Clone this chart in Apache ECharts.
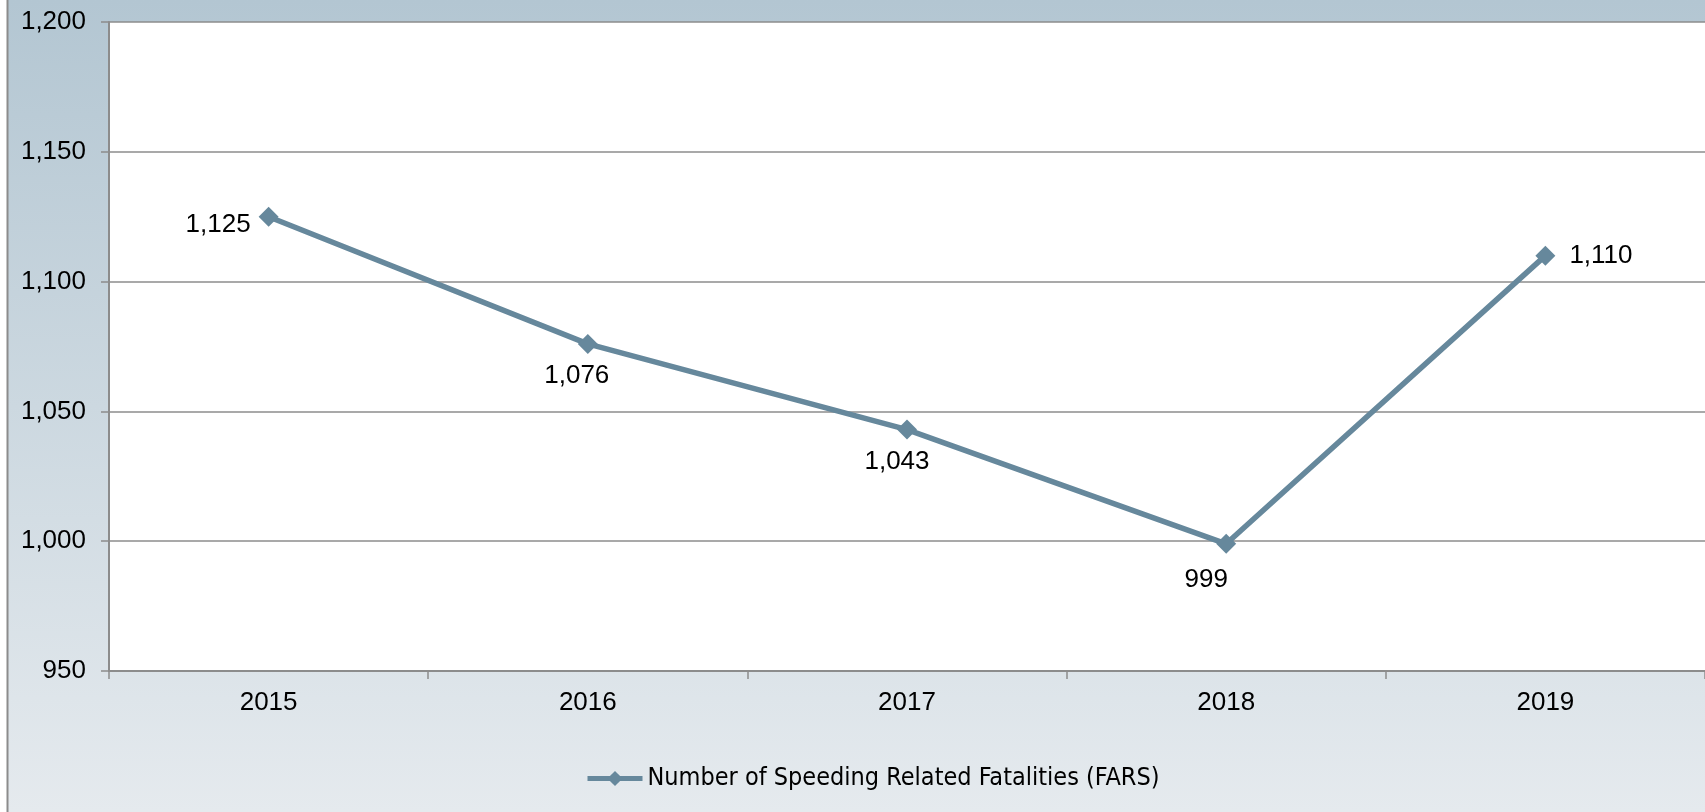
<!DOCTYPE html>
<html>
<head>
<meta charset="utf-8">
<script src="https://cdn.jsdelivr.net/npm/echarts@6/dist/echarts.min.js"></script>
<style>
  html, body { margin: 0; padding: 0; background: #fff; }
  #speedchart { width: 1705px; height: 812px; }
</style>
</head>
<body>
<div id="speedchart"></div>
<script>
  // values
  const years = ['2015', '2016', '2017', '2018', '2019']
  const fatalities = [1125, 1076, 1043, 999, 1110]
  const seriesName = 'Number of Speeding Related Fatalities (FARS)'
  const titleText = 'Trending Annual Speeding Related Fatalities (FARS)'
  const yMin = 950
  const yMax = 1200
  const yStep = 50

  // where each value label sits (Excel style)
  const labelPlace = [
    { position: 'left', distance: 8, offset: [0, 8] },
    { position: 'bottom', distance: 9, offset: [-11, 0] },
    { position: 'bottom', distance: 9, offset: [-10, 0] },
    { position: 'bottom', distance: 13, offset: [-20, 0] },
    { position: 'right', distance: 14, offset: [0, 0] },
  ]

  const fmt = v => Number(v).toLocaleString('en-US')
  const lineColor = '#66889c'
  const gridColor = '#8c8c8c'
  const font = "'Liberation Sans', Arial, sans-serif"

  const chart = echarts.init(document.getElementById('speedchart'))
  chart.setOption({
    backgroundColor: new echarts.graphic.LinearGradient(0, 0, 0, 1, [
      { offset: 0, color: '#b3c6d2' },
      { offset: 1, color: '#e5eaee' }
    ]),
    animation: false,
    graphic: [
      { type: 'rect', left: 0, top: 0, shape: { width: 7, height: 812 }, style: { fill: '#fff' } },
      { type: 'line', shape: { x1: 7.5, y1: 0, x2: 7.5, y2: 812 }, style: { stroke: gridColor, lineWidth: 2 } },
      // title is cut off by the top edge in the reference, only descenders show
      {
        type: 'text',
        x: 1366,
        y: -1,
        style: {
          text: titleText,
          fontFamily: font,
          fontWeight: 'bold',
          fontSize: 46,
          fill: '#000',
          align: 'right',
          verticalAlign: 'bottom'
        }
      }
    ],
    grid: {
      left: 109,
      right: 0,
      top: 22,
      bottom: 141,
      show: true,
      backgroundColor: '#fff',
      borderWidth: 0
    },
    legend: {
      left: 580,
      top: 761,
      itemWidth: 55,
      itemHeight: 19,
      itemGap: 0,
      lineStyle: { width: 5 },
      textStyle: { fontFamily: "'Liberation Sans Narrow', 'DejaVu Sans Condensed', sans-serif", fontSize: 25, color: '#000' },
      data: [seriesName]
    },
    xAxis: {
      type: 'category',
      data: years,
      boundaryGap: true,
      axisLine: { lineStyle: { color: gridColor, width: 2 } },
      axisTick: { show: true, length: 8, lineStyle: { color: gridColor, width: 1.5 } },
      axisLabel: { margin: 19, color: '#000', fontFamily: font, fontSize: 26 }
    },
    yAxis: {
      type: 'value',
      min: yMin,
      max: yMax,
      interval: yStep,
      axisLine: { show: true, lineStyle: { color: gridColor, width: 2 } },
      axisTick: { show: true, length: 8, lineStyle: { color: gridColor, width: 1.5 } },
      splitLine: { lineStyle: { color: gridColor, width: 1.5 } },
      axisLabel: { margin: 23, color: '#000', fontFamily: font, fontSize: 26, formatter: fmt }
    },
    series: [
      {
        name: seriesName,
        type: 'line',
        data: fatalities.map((v, i) => ({
          value: v,
          label: Object.assign({ show: true }, labelPlace[i])
        })),
        color: lineColor,
        symbol: 'diamond',
        symbolSize: 20,
        lineStyle: { width: 5.5, color: lineColor },
        itemStyle: { color: lineColor },
        label: {
          show: true,
          color: '#000',
          fontFamily: font,
          fontSize: 26,
          formatter: p => fmt(p.value)
        }
      }
    ]
  })
</script>
</body>
</html>
